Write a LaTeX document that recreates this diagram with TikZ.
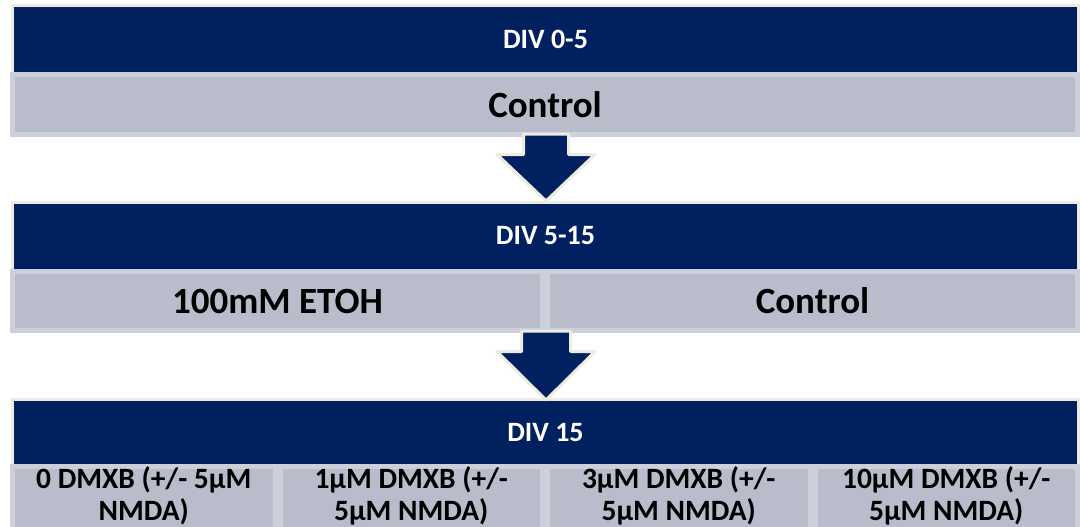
\documentclass[tikz,border=0pt]{standalone}
\usepackage{fontspec}
\setmainfont{Carlito}
\definecolor{navy}{HTML}{002060}
\definecolor{beige}{HTML}{EEECE1}
\definecolor{cellgray}{HTML}{B9BDCB}
\definecolor{cellrim}{HTML}{CDD0DA}
\tikzset{
  navybar/.style={draw=beige, line width=3pt, fill=navy, text=white, minimum width=1066pt, inner sep=0pt,
    font=\bfseries\fontsize{28}{32}\selectfont},
  cellbox/.style={draw=cellrim, line width=5pt, fill=cellgray, inner sep=0pt},
  bigtext/.style={font=\bfseries\fontsize{37}{44}\selectfont, text=black},
  smalltext/.style={font=\bfseries\fontsize{29.5}{32}\selectfont, text=black, align=center, inner sep=0pt},
  blockarrow/.style={draw=beige, line width=3pt, fill=navy, line join=round}
}
\begin{document}
\begin{tikzpicture}[x=1pt,y=-1pt]
\path[use as bounding box, fill=white] (0,0) rectangle (1080,527);
% section 1
\node[navybar, minimum height=68pt] (d1) at (545.5,39.5) {DIV 0-5};
\node[cellbox, minimum width=1065pt, minimum height=60pt, bigtext] (c1) at (545,104.5) {Control};
% section 2
\node[navybar, minimum height=68pt] (d2) at (545.5,236) {DIV 5-15};
\node[cellbox, minimum width=530pt, minimum height=59pt, bigtext] (c2a) at (277.5,301) {100mM ETOH};
\node[cellbox, minimum width=530pt, minimum height=59pt, bigtext] (c2b) at (812.5,301) {Control};
% section 3
\node[navybar, minimum height=68pt] (d3) at (545.5,433) {DIV 15};
\node[cellbox, minimum width=262.5pt, minimum height=66pt] (c3a) at (143.75,499.5) {};
\node[cellbox, minimum width=262.5pt, minimum height=66pt] (c3b) at (411.25,499.5) {};
\node[cellbox, minimum width=262.5pt, minimum height=66pt] (c3c) at (678.75,499.5) {};
\node[cellbox, minimum width=262.5pt, minimum height=66pt] (c3d) at (946.25,499.5) {};
\node[smalltext] (t3a) at (143.75,496) {0 DMXB (+/- 5μM\\NMDA)};
\node[smalltext] (t3b) at (411.25,496) {1μM DMXB (+/-\\5μM NMDA)};
\node[smalltext] (t3c) at (678.75,496) {3μM DMXB (+/-\\5μM NMDA)};
\node[smalltext] (t3d) at (946.25,496) {10μM DMXB (+/-\\5μM NMDA)};
% arrows
\draw[blockarrow] (523.5,134) -- (523.5,154.5) -- (497,154.5) -- (546,201) -- (595,154.5) -- (568.5,154.5) -- (568.5,134) -- cycle;
\draw[blockarrow] (521.5,331) -- (521.5,351.5) -- (497,351.5) -- (546,400) -- (595,351.5) -- (570.5,351.5) -- (570.5,331) -- cycle;
\end{tikzpicture}
\end{document}
